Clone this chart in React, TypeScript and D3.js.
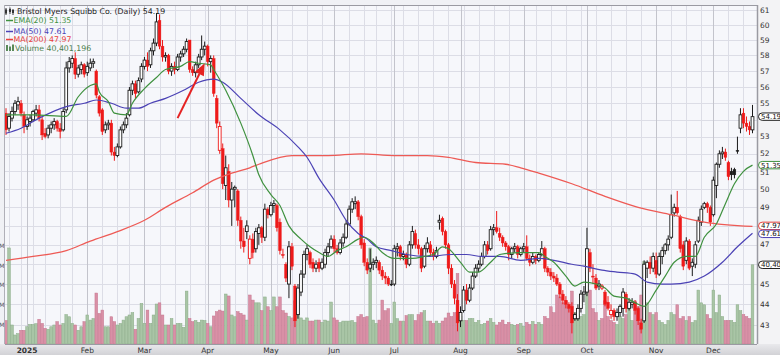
import React from "react";
import * as d3 from "d3";

const W = 780;
const H = 355;

// ---- Daily OHLC (Dec 20 2024 .. Dec 18 2025) ----
const opens = [
  54.4,53.5,54.1,54.5,54.9,55.0,54.3,
  53.6,53.9,54.0,54.4,54.6,54.0,53.2,53.1,53.5,53.7,53.9,53.5,53.4,54.6,57.2,57.5,57.8,56.8,57.1,57.4,
  56.9,57.2,57.5,57.0,55.4,54.6,53.4,53.7,53.8,52.1,51.9,52.4,53.4,53.7,54.3,55.8,56.2,55.7,56.5,
  57.3,57.7,57.4,58.3,58.8,60.3,58.6,57.9,58.0,57.0,57.3,57.1,57.9,58.1,58.4,59.0,57.1,56.9,57.4,57.9,58.4,
  58.6,57.6,57.8,55.3,52.2,52.3,50.2,51.0,49.4,50.0,49.9,48.3,47.2,47.7,46.3,47.3,46.8,47.6,47.9,47.4,48.9,
  48.6,49.1,49.1,48.2,46.5,46.0,45.0,46.9,44.9,43.5,44.6,45.5,46.5,46.6,46.1,45.8,46.1,45.8,46.0,46.6,46.9,
  47.3,46.8,46.6,47.1,47.4,48.1,48.9,49.2,49.3,48.5,47.1,46.1,45.8,46.0,46.1,46.1,45.7,45.4,45.3,45.0,
  45.0,46.8,46.9,46.4,46.5,46.0,47.0,47.6,47.0,46.8,45.9,46.8,47.0,46.6,46.4,48.2,48.4,47.7,47.0,45.8,45.0,44.2,
  43.2,43.7,44.7,44.2,44.8,45.4,45.8,46.0,46.4,47.0,46.8,47.8,47.9,47.6,47.4,47.1,46.9,46.5,46.8,46.9,46.5,
  46.8,46.9,46.3,46.1,46.4,46.2,46.5,46.8,45.8,45.6,45.4,45.3,45.0,44.5,44.2,44.0,43.9,43.3,43.3,43.8,44.5,
  44.6,46.6,45.4,45.3,44.9,44.8,44.6,44.1,43.5,43.7,43.4,43.6,43.8,44.5,43.8,44.0,44.1,43.8,43.1,43.2,45.8,46.1,45.8,
  46.2,45.5,46.4,46.7,47.0,47.4,48.7,49.0,48.5,47.0,46.2,47.2,45.9,46.0,47.2,48.2,49.0,49.2,49.0,
  48.6,50.2,51.4,52.0,52.1,51.5,51.0,51.1,52.2,53.5,54.4,53.8,53.6,53.4,
];
const highs = [
  54.7,54.4,54.8,55.2,55.4,55.2,54.5,
  54.2,54.3,54.6,54.9,54.9,54.2,53.5,53.7,53.9,54.1,54.0,53.8,54.7,57.6,57.9,58.0,58.2,57.4,57.6,57.5,
  57.6,57.8,57.8,57.1,55.5,54.7,53.9,54.0,54.0,52.4,52.6,53.6,53.9,54.4,56.0,56.4,56.4,56.6,57.5,
  57.9,58.2,58.5,59.1,60.8,60.7,59.0,58.2,58.1,57.5,57.6,58.1,58.3,58.6,59.1,59.0,57.3,57.6,58.1,59.3,58.9,
  58.7,58.0,58.0,55.5,53.9,52.6,51.9,51.4,50.4,50.2,50.0,48.5,47.9,48.3,47.5,47.6,47.9,48.1,48.0,49.2,49.0,
  49.3,49.4,49.2,48.4,46.8,46.1,47.2,47.1,45.0,45.0,45.7,46.7,47.0,46.7,46.3,46.2,46.3,46.3,46.8,47.1,47.5,
  47.5,47.0,47.3,47.6,48.3,49.1,49.5,49.6,49.4,48.6,47.3,46.3,46.8,46.3,46.4,46.2,45.9,45.6,45.4,45.2,
  47.0,47.1,47.0,46.7,46.6,47.2,48.0,47.8,47.3,46.9,47.0,47.4,47.2,46.8,46.9,48.6,48.5,47.8,47.1,46.0,45.2,44.5,
  43.9,44.9,45.0,45.0,45.6,46.0,46.2,46.6,47.2,47.2,48.0,48.1,48.8,47.9,47.5,47.2,47.0,46.9,47.1,47.0,46.9,
  47.1,47.5,46.5,46.6,46.5,46.6,47.2,46.9,45.9,45.8,45.6,45.5,45.1,44.7,44.4,44.1,44.1,43.6,44.0,44.7,44.9,
  47.9,46.8,46.0,45.5,45.2,45.0,44.7,44.4,44.0,43.8,43.8,44.0,44.8,44.6,44.3,44.3,44.2,43.9,43.3,46.2,46.2,46.4,46.6,
  46.6,46.6,46.9,47.1,47.5,49.7,49.2,49.9,48.6,47.2,47.4,47.3,46.3,47.2,48.5,49.1,49.3,49.3,49.1,
  50.7,51.5,52.2,52.4,52.3,51.6,51.2,51.2,53.0,54.7,54.7,54.2,53.9,54.9,
];
const lows = [
  53.1,53.3,53.9,54.3,54.6,54.2,53.2,
  53.4,53.6,53.9,54.2,53.9,52.8,52.9,52.9,53.2,53.4,53.3,52.9,53.3,54.4,56.9,57.2,56.5,56.6,56.8,56.6,
  56.7,57.0,57.2,55.3,54.2,53.1,53.2,53.4,51.9,51.6,51.8,52.3,53.2,53.5,54.2,55.5,55.3,55.6,56.3,
  57.1,57.0,57.2,58.0,58.6,58.4,57.6,57.6,56.8,56.7,56.8,57.0,57.6,57.9,58.2,56.9,56.7,56.6,57.2,57.7,58.0,
  57.3,56.9,55.4,53.5,52.0,50.0,49.4,49.0,48.0,49.0,48.0,46.8,46.6,47.3,46.0,46.3,46.6,47.0,47.1,47.2,48.4,
  48.5,48.7,47.7,46.5,46.3,45.1,44.3,45.7,42.9,43.3,44.4,45.3,46.2,45.8,45.6,45.6,45.6,45.7,45.8,46.4,46.8,
  46.6,46.5,46.5,46.9,47.3,48.0,48.7,48.9,48.3,46.8,45.9,45.5,45.6,45.7,45.8,45.5,45.2,45.0,44.9,44.9,
  44.9,46.4,46.2,46.2,45.8,45.9,46.8,46.8,46.5,45.6,45.8,46.6,46.4,46.2,46.3,47.8,47.5,46.8,45.5,44.8,44.0,42.7,
  42.9,43.6,44.0,44.1,44.7,45.3,45.6,45.9,46.3,46.5,46.7,47.5,47.6,47.2,46.9,46.7,46.2,46.3,46.6,46.3,46.4,
  46.6,46.2,45.9,46.0,46.0,46.1,46.4,45.6,45.4,45.2,45.1,44.9,44.3,44.0,43.8,43.6,42.6,43.2,43.2,43.6,44.1,
  44.4,45.6,45.0,44.7,44.7,44.7,43.9,43.7,43.3,43.2,43.2,43.4,43.4,43.6,43.7,43.8,43.5,43.0,42.6,43.1,45.3,45.5,45.6,
  45.3,45.4,46.0,46.5,46.7,47.3,48.5,48.6,46.6,45.7,46.0,45.7,45.4,45.8,47.1,48.0,48.9,48.7,48.0,
  48.5,49.5,51.2,51.7,51.6,50.5,50.5,50.6,52.0,53.2,53.5,53.3,53.1,53.2,
];
const closes = [
  53.4,54.2,54.5,55.0,55.1,54.4,53.6,
  54.0,54.1,54.5,54.6,54.1,53.1,53.0,53.5,53.7,53.9,53.5,53.3,54.5,57.2,57.6,57.8,56.8,57.2,57.4,56.8,
  57.3,57.5,57.6,55.5,54.4,53.3,53.7,53.8,52.1,51.9,52.4,53.4,53.7,54.1,55.8,56.2,55.6,56.4,57.3,
  57.7,57.3,58.3,58.8,60.2,58.6,57.9,58.0,57.0,57.3,57.1,57.9,58.1,58.4,58.9,57.1,56.9,57.4,57.9,58.4,58.6,
  57.6,57.8,55.6,53.8,53.6,50.3,51.2,49.4,50.0,50.1,48.3,47.2,46.9,48.0,47.3,46.6,47.7,47.9,47.4,48.9,48.6,
  49.1,49.2,47.9,46.7,46.5,45.3,46.9,45.9,43.2,44.8,45.5,46.5,46.8,46.0,45.8,46.0,45.8,46.1,46.6,46.9,47.3,
  46.8,46.6,47.1,47.4,48.1,48.9,49.3,49.3,48.5,47.0,46.1,45.7,46.0,46.1,46.2,45.7,45.4,45.3,45.0,45.0,
  46.8,46.9,46.4,46.5,46.0,47.0,47.7,47.0,46.8,45.8,46.8,47.1,46.6,46.4,46.7,48.3,47.7,47.0,45.8,45.0,44.3,43.1,
  43.6,44.7,44.2,44.8,45.4,45.8,46.0,46.4,47.0,46.7,47.8,47.9,47.7,47.4,47.1,46.9,46.5,46.8,46.9,46.5,46.8,
  46.9,46.3,46.1,46.4,46.2,46.5,46.8,45.8,45.6,45.4,45.3,45.0,44.5,44.2,44.0,43.8,43.1,43.5,43.8,44.5,44.6,
  46.8,45.8,45.4,44.8,45.0,44.9,44.0,43.8,43.7,43.4,43.6,43.9,44.6,43.8,44.1,44.1,43.7,43.2,42.8,46.0,46.1,45.8,46.4,
  45.5,46.4,46.7,47.0,47.3,48.6,49.0,48.7,46.8,45.9,47.2,45.8,46.1,47.0,48.3,48.9,49.2,49.0,48.2,
  50.5,51.4,52.0,52.1,51.8,50.7,50.8,50.8,52.2,54.3,53.8,53.6,53.4,54.19,
];
// volume, millions of shares
const volumes = [
  12,49,9.7,4.6,5.3,7,7,
  8.8,10,10,10.4,12.6,10.5,8,7.5,8.8,9.7,11.4,9.7,10.5,15,13.9,10.5,9.7,7,8.8,11.4,
  14.8,12.2,13,26,15.6,17.3,8.8,8.8,13.9,11.4,9.7,10.5,12.2,13.9,14.8,16,7.5,13,20.7,
  10.5,17.3,10.5,14.8,20.4,21,14.8,9.7,9.7,13,9.7,10.5,10.5,8.5,27,13,11.4,12,11,12.2,12,
  10.5,8.8,14.3,16.5,17.3,16.8,25.5,24.5,14.8,13.9,16.5,15.6,14.8,12.2,25,22.4,21,21,17,24,19,
  17,24,19,24,17,15.8,14,13.3,22,15.8,13.3,12.2,13.3,11.7,11.7,12.2,12.2,11,12.2,11.7,21.4,
  13.3,12.2,11,11.7,11.7,11.7,12,11,14,15,13.6,14,49,12.2,10.5,12.2,22.4,17,18,10.5,
  21.4,12.9,11.7,11.7,14.5,15,15,12,15,16,17,11.7,11.7,10.5,11.7,10.5,11.7,13.3,15.8,14,16,36,
  14,12,12,13,13,11,12,10,10.5,11.7,13,11,9.7,11,12.2,10,11,10,9.5,10,10.5,
  9,11,10,11.5,10,11,10,14,13,19,16,25,24,21,22,19,27,16,15,14,15,
  36.7,27.5,18,16,12,13,22,14,12,11,10,14,13,15,18,12,22,19,25,42,21,16,15,
  16,12,11,10,12,16,15,20,13,14,12,14,11,12,27.5,21,20,15,13,
  27.5,16,25,14,12,12,12,11,20,17,15,14,13,40.4,
];

// ---- Overlays (trading-day index, value) ----
const emaIdx = [0,9,20,24,28,30,31,34,36,40,42,46,50,53,58,61,64,68,69,73,78,82,84,88,91,94,98,101,104,107,110,113,117,119,122,125,129,135,139,142,145,147,151,154,157,161,164,171,177,179,182,186,189,192,196,199,202,206,210,212,216,219,222,226,229,232,236,239,242,245,248];
const emaVal = [54.3,54.3,54.2,55.4,56.1,56.2,55.7,55.1,54.4,54.3,55.0,55.9,56.6,57.1,57.3,57.6,57.5,57.4,57.1,55.8,53.8,51.9,50.8,49.7,49.1,48.0,47.3,46.9,46.6,46.4,46.7,46.9,47.3,47.4,47.1,46.6,46.3,46.3,46.4,46.5,46.9,46.8,46.1,45.6,45.6,46.1,46.5,46.6,46.6,46.4,46.1,45.4,44.9,45.1,45.0,44.8,44.4,44.3,44.0,43.9,44.7,45.4,46.1,46.4,46.4,47.4,48.1,49.2,50.3,51.0,51.35];
const ma50Idx = [0,5,11,20,26,30,35,40,44,48,53,59,64,69,72,78,84,91,97,100,104,109,113,117,120,123,128,133,140,148,153,158,164,171,177,182,188,192,198,203,209,213,218,221,227,232,238,243,248];
const ma50Val = [53.2,53.5,54.1,54.8,55.0,55.2,55.0,54.7,54.7,55.0,55.3,55.8,56.3,56.5,56.3,55.3,54.3,53.4,52.4,51.8,50.6,49.4,48.3,47.6,47.3,46.9,46.7,46.5,46.4,46.5,46.5,46.4,46.4,46.2,46.3,46.2,46.0,45.9,45.7,45.6,45.5,45.1,45.0,45.0,45.1,45.4,46.1,46.9,47.61];
const ma200Idx = [0,9,20,28,37,46,53,62,69,75,81,84,95,107,118,129,140,147,156,166,171,177,188,199,210,221,232,248];
const ma200Val = [46.2,46.4,46.7,47.2,47.7,48.3,49.0,49.8,50.5,50.9,51.2,51.4,51.9,51.9,52.0,51.9,51.9,51.8,51.5,51.4,51.2,50.9,50.3,49.6,49.0,48.6,48.2,47.97];

const priceTicks = [43,44,45,46,47,48,49,50,51,52,53,54,55,56,57,58,59,60,61];
const volTicks = [10,20,30,40,50];
const monthNames = ["2025","Feb","Mar","Apr","May","Jun","Jul","Aug","Sep","Oct","Nov","Dec"];
const holidays = ["2024-12-25","2025-01-01","2025-01-09","2025-01-20","2025-02-17","2025-04-18","2025-05-26","2025-06-19","2025-07-04","2025-09-01","2025-11-27"];
const legendTitle = "Bristol Myers Squibb Co. (Daily) 54.19";
const lastEma = "51.35", lastMa50 = "47.61", lastMa200 = "47.97", lastVol = "40,401,196";
const arrowFrom = { i: 57, p: 54.1 };
const arrowTo = { i: 66, p: 57.5 };

function tradingDays(start: string, n: number): Date[] {
  const out: Date[] = [];
  const d = new Date(start + "T12:00:00Z");
  while (out.length < n) {
    const wd = d.getUTCDay();
    const key = d.toISOString().slice(0, 10);
    if (wd !== 0 && wd !== 6 && !holidays.includes(key)) out.push(new Date(d));
    d.setUTCDate(d.getUTCDate() + 1);
  }
  return out;
}

const FONT = "'DejaVu Sans', Verdana, sans-serif";

export default function App() {
  const n = closes.length;
  const dates = tradingDays("2024-12-20", n);
  const L = 5, R = 757, T = 5, B = 344;

  const x = d3.scaleLinear().domain([0, n - 1]).range([6, 752.5]);
  const y = d3.scaleLog().domain([43, 61]).range([325, 10]);
  const yv = d3.scaleLinear().domain([0, 50]).range([B, B - 98]);

  const monthStarts: number[] = [];
  const weekStarts: number[] = [];
  for (let i = 1; i < n; i++) {
    if (dates[i].getUTCMonth() !== dates[i - 1].getUTCMonth()) monthStarts.push(i);
    else if (dates[i].getUTCDay() < dates[i - 1].getUTCDay()) weekStarts.push(i);
    else if ((dates[i].getTime() - dates[i - 1].getTime()) / 86400000 > 3) weekStarts.push(i);
  }

  const mkLine = (idx: number[], val: number[]) =>
    d3.line<number>().x((_, k) => x(idx[k])).y((v) => y(v)).curve(d3.curveMonotoneX)(val) || "";

  const up = (i: number) => (i === 0 ? closes[i] >= opens[i] : closes[i] >= closes[i - 1]);

  const tags = [
    { y: y(54.19), text: "54.19", color: "#222" },
    { y: y(51.35), text: lastEma, color: "#3f913f" },
    { y: y(47.97) - 0.6, text: lastMa200, color: "#e8413c" },
    { y: y(47.61) + 0.6, text: lastMa50, color: "#4b42b5" },
    { y: yv(40.401196), text: "40,401,196", color: "#222" },
  ];
  const shownTicks = priceTicks.filter((t) => tags.every((g) => Math.abs(g.y - y(t)) > 5));

  // arrow
  const ax0 = x(arrowFrom.i), ay0 = y(arrowFrom.p), ax1 = x(arrowTo.i), ay1 = y(arrowTo.p);
  const len = Math.hypot(ax1 - ax0, ay1 - ay0);
  const ux = (ax1 - ax0) / len, uy = (ay1 - ay0) / len;
  const hb = { x: ax1 - ux * 12, y: ay1 - uy * 12 };
  const head = `${ax1},${ay1} ${hb.x + -uy * 5},${hb.y + ux * 5} ${hb.x - -uy * 5},${hb.y - ux * 5}`;

  return (
    <svg width={W} height={H} style={{ position: "absolute", left: 0, top: 0, display: "block" }} fontFamily={FONT}>
      <defs>
        <clipPath id="plot"><rect x={L} y={T} width={R - L} height={B - T} /></clipPath>
        <linearGradient id="axisg" x1="0" y1="0" x2="0" y2="1">
          <stop offset="0" stopColor="#e9e9ec" />
          <stop offset="1" stopColor="#d2d2d6" />
        </linearGradient>
      </defs>
      <rect x={0} y={0} width={W} height={H} fill="#f0f1f5" />
      <rect x={L} y={T} width={R - L} height={B - T} fill="#f6f7fb" />

      {/* grid */}
      <g clipPath="url(#plot)">
        {priceTicks.map((t) => (
          <line key={"h" + t} x1={L} x2={R} y1={Math.round(y(t)) + 0.5} y2={Math.round(y(t)) + 0.5} stroke="#dcdde6" strokeWidth={1} />
        ))}
        {weekStarts.map((i) => (
          <line key={"w" + i} x1={Math.round(x(i)) + 0.5} x2={Math.round(x(i)) + 0.5} y1={T} y2={B} stroke="#dcdde6" strokeWidth={1} />
        ))}
        {[7].concat(monthStarts.filter((i) => i !== 7)).map((i) => (
          <line key={"m" + i} x1={Math.round(x(i)) + 0.5} x2={Math.round(x(i)) + 0.5} y1={T} y2={B} stroke="#c3c4cc" strokeWidth={1} />
        ))}

        {/* volume */}
        {volumes.map((v, i) => {
          const u = up(i);
          return (
            <rect key={"v" + i} x={x(i) - 1.35} y={yv(v)} width={2.7} height={B - yv(v)}
              fill={u ? "#a9c5a6" : "#d990a6"} stroke={u ? "#8aac87" : "#c5768f"} strokeWidth={0.5} />
          );
        })}

        {/* candles */}
        {closes.map((c, i) => {
          const o = opens[i];
          const col = up(i) ? "#1a1a1a" : "#ee1a1a";
          const hollow = c > o;
          const top = y(Math.max(o, c));
          const h = Math.max(1, Math.abs(y(o) - y(c)));
          return (
            <g key={"c" + i}>
              <line x1={x(i)} x2={x(i)} y1={y(highs[i])} y2={y(lows[i])} stroke={col} strokeWidth={1} />
              <rect x={x(i) - 1.4} y={top} width={2.8} height={h}
                fill={hollow ? "#ffffff" : col} stroke={col} strokeWidth={hollow ? 0.9 : 0.4} />
            </g>
          );
        })}

        {/* overlays */}
        <path d={mkLine(ma200Idx, ma200Val)} fill="none" stroke="#ee5a55" strokeWidth={1.3} />
        <path d={mkLine(ma50Idx, ma50Val)} fill="none" stroke="#4b42b5" strokeWidth={1.2} />
        <path d={mkLine(emaIdx, emaVal)} fill="none" stroke="#3f913f" strokeWidth={1.2} />

        {/* annotation arrow */}
        <line x1={ax0} y1={ay0} x2={hb.x} y2={hb.y} stroke="#e52222" strokeWidth={2} />
        <polygon points={head} fill="#e52222" />
      </g>

      {/* frame */}
      <line x1={L} x2={R} y1={T + 0.5} y2={T + 0.5} stroke="#9a9aa2" strokeWidth={1} />
      <line x1={L - 0.5} x2={L - 0.5} y1={T} y2={B} stroke="#b0b0b8" strokeWidth={1} />
      <rect x={R} y={0} width={W - R} height={B} fill="#f3f3f5" />
      <line x1={R + 0.5} x2={R + 0.5} y1={T} y2={B} stroke="#9a9aa2" strokeWidth={1.5} />
      <rect x={0} y={B} width={W} height={H - B} fill="url(#axisg)" />
      <line x1={L} x2={R} y1={B + 0.5} y2={B + 0.5} stroke="#9a9aa2" strokeWidth={1} />

      {/* left volume labels (clipped at the edge, as in the source) */}
      {volTicks.map((t) => (
        <text key={"vl" + t} x={4.5} y={yv(t)} dy="0.35em" textAnchor="end" fontSize={6} fill="#555">{t}M</text>
      ))}

      {/* right axis */}
      {shownTicks.map((t) => (
        <text key={"yt" + t} x={760} y={y(t) + (t === 51 ? 1.5 : 0)} dy="0.35em" fontSize={7.5} fill="#333">{t}</text>
      ))}
      {tags.map((g, k) => (
        <g key={"tag" + k}>
          <rect x={758.5} y={g.y - 3.7} width={30} height={7.4} rx={3.7} fill="#ffffff" stroke={g.color} strokeWidth={1} />
          <text x={761} y={g.y} dy="0.35em" fontSize={7} fill="#111">{g.text}</text>
        </g>
      ))}

      {/* bottom axis labels */}
      {[7].concat(monthStarts.filter((i) => i !== 7)).map((i, k) => (
        <text key={"ml" + i} x={x(i)} y={353} textAnchor="middle" fontSize={7.5}
          fontWeight={k === 0 ? "bold" : "normal"} fill="#333">
          {monthNames[dates[i].getUTCMonth()]}
        </text>
      ))}

      {/* legend */}
      <g fontSize={7.8}>
        <g>
          <line x1={6} x2={6} y1={8} y2={15} stroke="#333" />
          <rect x={5} y={9.5} width={2} height={4} fill="#333" />
          <line x1={10} x2={10} y1={7.5} y2={14} stroke="#333" />
          <rect x={9} y={9} width={2} height={3} fill="#333" />
          <line x1={13} x2={13} y1={9} y2={15} stroke="#333" />
          <rect x={12} y={10} width={2} height={3} fill="#333" />
        </g>
        <text x={17} y={11.7} dy="0.35em" fill="#222">{legendTitle}</text>
        <line x1={6} x2={13} y1={20.5} y2={20.5} stroke="#3f913f" strokeWidth={1.5} />
        <text x={13.5} y={20.5} dy="0.35em" fill="#3f913f">EMA(20) {lastEma}</text>
        <line x1={6} x2={13} y1={31.5} y2={31.5} stroke="#4b42b5" strokeWidth={1.5} />
        <text x={13.5} y={31.5} dy="0.35em" fill="#4b42b5">MA(50) {lastMa50}</text>
        <line x1={6} x2={13} y1={39.5} y2={39.5} stroke="#e8413c" strokeWidth={1.5} />
        <text x={13.5} y={39.5} dy="0.35em" fill="#e8413c">MA(200) {lastMa200}</text>
        <g fill="#5a8a5a">
          <rect x={6} y={45} width={2} height={6} />
          <rect x={9} y={46.5} width={2} height={4.5} />
          <rect x={12} y={44.5} width={2} height={6.5} />
        </g>
        <text x={15} y={48} dy="0.35em" fill="#4e7f4e">Volume {lastVol}</text>
      </g>
    </svg>
  );
}
